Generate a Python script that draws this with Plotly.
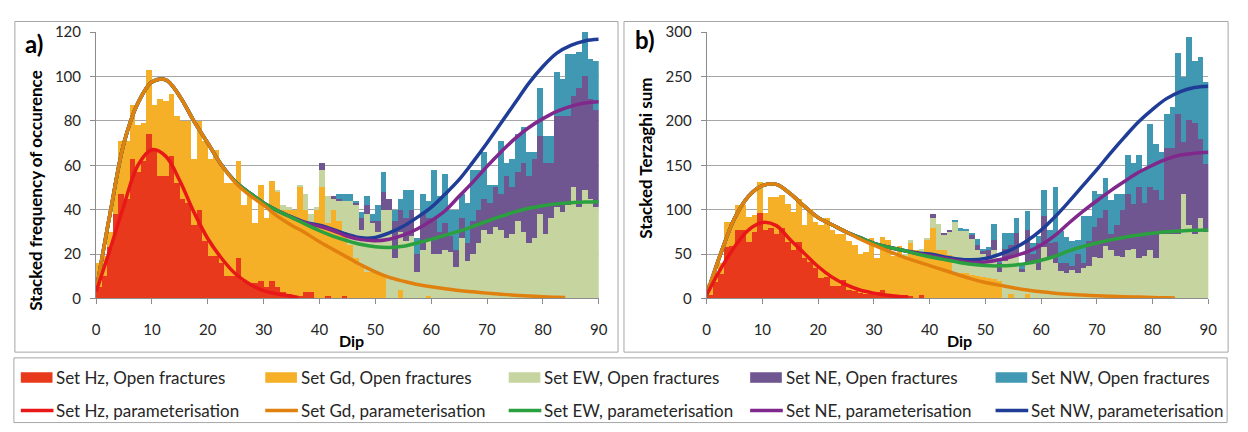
import plotly.graph_objects as go

# ---------------- data ----------------
dip_bins = [i + 0.5 for i in range(90)]          # 1-degree dip classes 0..90
set_names = ["Hz", "Gd", "EW", "NE", "NW"]

# Panel a) frequency of occurrence per set (open fractures)
hz_a = [5, 10, 23, 38, 47, 45, 63, 57, 62, 74,
        67, 55, 55, 64, 52, 45, 43, 33, 40, 26,
        19, 19, 16, 10, 10, 18, 8, 7, 7, 8,
        5, 8, 5, 3, 2, 1, 1, 3, 3, 0,
        0, 1, 0, 0, 1, 0, 0, 0, 0, 0,
        0, 0, 0, 0, 0, 0, 0, 0, 0, 0,
        0, 0, 0, 0, 0, 0, 0, 0, 0, 0,
        0, 0, 0, 0, 0, 0, 0, 0, 0, 0,
        0, 0, 0, 0, 0, 0, 0, 0, 0, 0]
gd_a = [11, 9, 7, 14, 24, 26, 24, 21, 17, 29,
        20, 35, 34, 28, 30, 35, 37, 30, 40, 45,
        44, 48, 44, 42, 42, 44, 34, 39, 27, 43,
        31, 45, 43, 37, 38, 39, 49, 37, 31, 40,
        50, 33, 40, 35, 29, 24, 18, 14, 12, 12,
        11, 11, 0, 0, 4, 0, 0, 0, 0, 1,
        0, 0, 0, 0, 0, 0, 0, 0, 0, 0,
        0, 0, 0, 0, 0, 0, 0, 0, 0, 0,
        0, 0, 0, 0, 0, 0, 0, 0, 0, 0]
ew_a = [0, 0, 0, 0, 0, 0, 0, 0, 0, 0,
        0, 0, 0, 0, 0, 0, 0, 0, 0, 0,
        0, 0, 0, 0, 0, 0, 0, 1, 0, 0,
        0, 0, 1, 2, 1, 0, 1, 7, 4, 1,
        8, 12, 5, 9, 14, 20, 24, 17, 26, 22,
        19, 29, 40, 18, 26, 26, 28, 12, 22, 25,
        20, 20, 22, 21, 14, 27, 17, 20, 25, 31,
        29, 32, 31, 27, 29, 35, 30, 25, 27, 38,
        29, 36, 41, 39, 42, 50, 41, 49, 45, 41]
ne_a = [0, 0, 0, 0, 0, 0, 0, 0, 0, 0,
        0, 0, 0, 0, 0, 0, 0, 0, 0, 0,
        0, 0, 0, 0, 0, 0, 0, 0, 0, 0,
        0, 0, 0, 0, 0, 0, 0, 0, 0, 0,
        3, 0, 1, 1, 0, 0, 1, 5, 4, 1,
        5, 8, 5, 17, 10, 10, 12, 8, 16, 10,
        16, 10, 12, 7, 8, 9, 8, 15, 15, 14,
        14, 18, 16, 28, 21, 22, 31, 30, 36, 35,
        32, 25, 41, 43, 40, 41, 54, 51, 45, 44]
nw_a = [0, 0, 0, 0, 0, 0, 0, 0, 0, 0,
        0, 0, 0, 0, 0, 0, 0, 0, 0, 0,
        0, 0, 0, 0, 0, 0, 0, 0, 0, 0,
        0, 0, 0, 0, 0, 0, 0, 0, 0, 0,
        0, 0, 0, 2, 3, 3, 1, 3, 4, 3,
        7, 9, 0, 5, 5, 13, 9, 7, 9, 8,
        22, 16, 22, 12, 18, 11, 18, 23, 18, 21,
        8, 1, 24, 6, 13, 17, 16, 11, 3, 22,
        12, 12, 20, 17, 28, 19, 16, 20, 18, 22]

# Panel b) Terzaghi-weighted sum per set (open fractures)
hz_b = [4, 18, 27, 58, 59, 77, 77, 63, 75, 96,
        77, 79, 72, 79, 63, 54, 63, 45, 41, 34,
        23, 24, 14, 14, 21, 10, 8, 6, 5, 6,
        7, 9, 3, 2, 1.5, 3.6, 2.5, 0, 3.6, 0.5,
        0, 0, 0, 0, 0, 0, 0, 0, 0, 0,
        0, 0, 0, 0, 0, 0, 0, 0, 0, 0,
        0, 0, 0, 0, 0, 0, 0, 0, 0, 0,
        0, 0, 0, 0, 0, 0, 0, 0, 0, 0,
        0, 0, 0, 0, 0, 0, 0, 0, 0, 0]
gd_b = [12, 12, 13, 28, 27, 28, 28, 29, 19, 35,
        19, 35, 42, 38, 43, 43, 49, 38, 60, 52,
        60, 67, 63, 58, 51, 55, 52, 44, 47, 62,
        39, 60, 63, 46, 58, 44, 60, 54, 49, 66,
        79, 54, 54, 49, 29, 29, 29, 26, 25, 24,
        23, 22, 20, 0, 5, 0, 0, 5, 0, 0,
        0, 0, 0, 0, 0, 0, 0, 0, 0, 0,
        0, 0, 0, 0, 0, 0, 0, 0, 0, 0,
        0, 0, 0, 0, 0, 0, 0, 0, 0, 0]
ew_b = [0, 0, 0, 0, 0, 0, 0, 0, 0, 0,
        0, 0, 0, 0, 0, 0, 0, 0, 0, 0,
        0, 0, 0, 0, 0, 0, 0, 0, 0, 0,
        0, 0, 0, 0, 0, 2, 3, 0, 3, 2,
        12, 30, 18, 26, 58, 48, 47, 41, 30, 26,
        22, 33, 10, 42, 40, 50, 30, 35, 40, 32,
        57.5, 47, 40, 30.5, 28.7, 32, 28.7, 34, 36, 47,
        45, 59, 54, 48, 47, 54, 55.6, 45, 47.6, 54,
        45, 72, 72, 72, 72, 118, 83, 72, 90, 75]
ne_b = [0, 0, 0, 0, 0, 0, 0, 0, 0, 0,
        0, 0, 0, 0, 0, 0, 0, 0, 0, 0,
        0, 0, 0, 0, 0, 0, 0, 0, 0, 0,
        0, 0, 0, 0, 0, 0, 0, 0, 0, 0,
        4.5, 0, 2, 2, 0, 0, 1, 5, 5, 3,
        10, 11, 10, 14, 15, 24, 3, 37, 10, 30,
        35.5, 15, 24, 9.5, 11.3, 4, 21.3, 6, 28.6, 33.8,
        45, 41, 18.6, 35, 53, 64, 50.4, 81, 60.4, 72,
        77, 39, 97, 97, 136, 58, 118, 125, 90, 76]
nw_b = [0, 0, 0, 0, 0, 0, 0, 0, 0, 0,
        0, 0, 0, 0, 0, 0, 0, 0, 0, 0,
        0, 0, 0, 0, 0, 0, 0, 0, 0, 0,
        0, 0, 0, 0, 0, 0, 0, 0, 0, 0,
        0, 0, 0, 0, 1, 2, 1, 2, 7, 3,
        3, 18, 5, 18, 14, 17, 5, 22, 12, 8,
        29, 15, 62, 36, 29, 28.7, 16, 53, 28.4, 40.2,
        28, 36, 38.4, 35, 18, 43, 46, 36, 38, 70,
        52, 54, 39, 47, 68, 73, 93, 70, 92, 93]

# Parameterised (stacked) curves, sampled along dip
curve_dip = [0, 2.5, 5, 7.5, 10, 12.5, 15, 17.5, 20, 22.5, 25, 27.5, 30, 32.5,
             35, 37.5, 40, 42.5, 45, 47.5, 50, 52.5, 55, 57.5, 60, 62.5, 65,
             67.5, 70, 72.5, 75, 77.5, 80, 82.5, 85, 87.5, 90]
hz_curve_dip = [0, 2.5, 5, 7.5, 10, 12.5, 15, 17.5, 20, 22.5, 25, 27.5, 30,
                32.5, 35, 36.2]
gd_curve_dip = curve_dip[:34] + [84]

hz_fit_a = [3, 22, 42, 60, 67, 64, 53, 39, 27, 18, 11, 6.5, 3.5, 2, 1, 0.5]
gd_fit_a = [3, 38, 70, 88, 97.5, 98.5, 91, 80, 70, 60, 52, 46.5, 42, 37, 33,
            29.5, 25.5, 22, 18.5, 15, 12, 9.5, 7.8, 6.3, 5.3, 4.4, 3.6, 3, 2.4,
            1.9, 1.5, 1.1, 0.8, 0.5, 0.4]
ew_fit_a = [3, 38, 70, 88, 97.5, 98.5, 91, 80, 70, 60, 52.5, 47.5, 43, 39.5,
            36.5, 33.5, 30.5, 28, 26, 24.3, 23.3, 23, 23.5, 25, 26.6, 28.5,
            30.3, 32.5, 34.8, 37, 39, 40.6, 41.8, 42.6, 43.1, 43.4, 43.6]
ne_fit_a = [3, 38, 70, 88, 97.5, 98.5, 91, 80, 70, 60, 52.5, 47.5, 43, 39.5,
            36.6, 34, 32.5, 30.5, 28, 26.5, 26, 26.7, 28.5, 31.3, 35, 39.5,
            46, 52.5, 59.5, 66, 72, 77, 81, 84.3, 86.5, 88, 88.6]
nw_fit_a = [3, 38, 70, 88, 97.5, 98.5, 91, 80, 70, 60, 52.5, 47.5, 43, 39.5,
            36.7, 34.3, 33, 31, 28.8, 27.3, 27.5, 29.5, 32.5, 36.5, 41, 47,
            53.5, 61.5, 70, 79, 88, 97, 104.5, 110.5, 114, 116, 116.7]

hz_fit_b = [4, 33, 58, 77, 85.5, 82, 66, 51, 36, 24, 15.5, 9.5, 6, 3.5, 1.8, 1.3]
gd_fit_b = [4, 50, 90, 115, 127, 128.5, 118, 104, 91, 83, 75, 67, 60, 53.5,
            47.5, 42, 37, 32, 27, 22, 18, 15, 12, 9.5, 7.5, 6, 4.8, 3.8, 3.1,
            2.5, 2, 1.5, 1, 0.7, 0.5]
ew_fit_b = [4, 50, 90, 115, 127, 128.5, 118, 104, 91, 83, 75, 68.5, 62, 58,
            54.5, 50.5, 47, 44, 41, 38.5, 37, 36.7, 37.5, 39.5, 43, 47.5, 53.5,
            58.5, 62.5, 66, 69, 71.3, 73.3, 75, 76, 76.7, 77]
ne_fit_b = [4, 50, 90, 115, 127, 128.5, 118, 104, 91, 83, 75, 68.5, 62, 58,
            54.5, 51, 48.5, 45.5, 42.5, 40.5, 41, 43.5, 47.5, 52.5, 60, 71, 85,
            98, 110, 121.5, 132, 142, 150, 157, 161.5, 163.5, 164.5]
nw_fit_b = [4, 50, 90, 115, 127, 128.5, 118, 104, 91, 83, 75, 68.5, 62, 58,
            54.5, 51.5, 50, 47, 44.5, 43.5, 45, 49.5, 56, 65, 77, 92, 109, 127,
            145, 164, 182, 199, 213, 225, 233, 237.5, 239]

bar_colors = {"Hz": "#E8391D", "Gd": "#F5B028", "EW": "#C6D4A0",
              "NE": "#705690", "NW": "#4098B2"}
line_colors = {"Hz": "#E81818", "Gd": "#E0800F", "EW": "#2AA03E",
               "NE": "#80288C", "NW": "#1F3D96"}

# ---------------- figure ----------------
W, H = 1248, 432
FONT = "Lato, 'Open Sans', sans-serif"
TXT = "#262626"
GRID = "#A6A6A6"

def px(x):
    return x / W

def py(y):
    return 1 - y / H

fig = go.Figure()

panels = [
    ("x", "y", [hz_a, gd_a, ew_a, ne_a, nw_a],
     [hz_fit_a, gd_fit_a, ew_fit_a, ne_fit_a, nw_fit_a]),
    ("x2", "y2", [hz_b, gd_b, ew_b, ne_b, nw_b],
     [hz_fit_b, gd_fit_b, ew_fit_b, ne_fit_b, nw_fit_b]),
]

for xa, ya, bars, fits in panels:
    for name, vals in zip(set_names, bars):
        fig.add_trace(go.Bar(
            x=dip_bins, y=vals, width=1, xaxis=xa, yaxis=ya,
            marker=dict(color=bar_colors[name], line=dict(width=0)),
            name=f"Set {name}, Open fractures", showlegend=False,
            hoverinfo="skip"))
    # draw NW curve first so the lower sets sit on top where they coincide
    for name, vals in reversed(list(zip(set_names, fits))):
        if name == "Hz":
            xs = hz_curve_dip
        elif name == "Gd":
            xs = gd_curve_dip
        else:
            xs = curve_dip
        fig.add_trace(go.Scatter(
            x=xs, y=vals, mode="lines", xaxis=xa, yaxis=ya,
            line=dict(color=line_colors[name], width=3.5, shape="spline",
                      smoothing=1.0),
            name=f"Set {name}, parameterisation", showlegend=False,
            hoverinfo="skip"))

axis_common = dict(showline=True, linecolor="#8C8C8C", linewidth=1,
                   ticks="outside", ticklen=5, tickcolor="#8C8C8C",
                   tickfont=dict(family=FONT, size=15, color=TXT),
                   zeroline=False)

fig.update_layout(
    width=W, height=H, margin=dict(l=0, r=0, t=0, b=0),
    paper_bgcolor="white", plot_bgcolor="white",
    barmode="stack", bargap=0, showlegend=False,
    font=dict(family=FONT, color=TXT),
    xaxis=dict(domain=[px(93), px(601)], range=[0, 90], dtick=10,
               showgrid=False, anchor="y", ticklabelstandoff=13, **axis_common),
    yaxis=dict(domain=[py(301), py(23)], range=[0, 120], dtick=20,
               showgrid=True, gridcolor=GRID, gridwidth=1, anchor="x",
               ticklabelstandoff=6, **axis_common),
    xaxis2=dict(domain=[px(710), px(1217)], range=[0, 90], dtick=10,
                showgrid=False, anchor="y2", ticklabelstandoff=13, **axis_common),
    yaxis2=dict(domain=[py(301), py(23)], range=[0, 300], dtick=50,
                showgrid=True, gridcolor=GRID, gridwidth=1, anchor="x2",
                ticklabelstandoff=6, **axis_common),
)

shapes = []
annotations = []
frame = dict(type="rect", xref="paper", yref="paper",
             line=dict(color="#A6A6A6", width=1), fillcolor="rgba(0,0,0,0)",
             layer="below")
# panel frames and legend box
shapes.append(dict(frame, x0=px(11), x1=px(620.5), y0=py(357), y1=py(12)))
shapes.append(dict(frame, x0=px(626.5), x1=px(1237), y0=py(357), y1=py(12)))
shapes.append(dict(frame, x0=px(10), x1=px(1236), y0=py(430.5), y1=py(363)))

def label(x, y, text, size, bold=False, angle=0, xanchor="center"):
    annotations.append(dict(
        x=px(x), y=py(y), xref="paper", yref="paper", showarrow=False,
        text=f"<b>{text}</b>" if bold else text, textangle=angle,
        xanchor=xanchor, yanchor="middle",
        font=dict(family=FONT, size=size, color="#000000" if bold else TXT)))

label(30, 35, "a)", 24, bold=True)
label(648, 31, "b)", 24, bold=True)
label(32, 188, "Stacked frequency of occurence", 17, bold=True, angle=-90)
label(648, 155, "Stacked Terzaghi sum", 17, bold=True, angle=-90)
label(351, 345, "Dip", 16, bold=True)
label(966, 345, "Dip", 16, bold=True)

# legend: one column per fracture set
legend_cols = [17, 264, 510, 754, 1002]
for name, x0 in zip(set_names, legend_cols):
    shapes.append(dict(type="rect", xref="paper", yref="paper",
                       x0=px(x0), x1=px(x0 + 32), y0=py(389), y1=py(378),
                       fillcolor=bar_colors[name], line=dict(width=0)))
    label(x0 + 34, 383, f"Set {name}, Open fractures", 17, xanchor="left")
    shapes.append(dict(type="line", xref="paper", yref="paper",
                       x0=px(x0), x1=px(x0 + 33), y0=py(418), y1=py(418),
                       line=dict(color=line_colors[name], width=3.5)))
    label(x0 + 34, 418, f"Set {name}, parameterisation", 17, xanchor="left")

fig.update_layout(shapes=shapes, annotations=annotations)
fig.write_html("out.html")
